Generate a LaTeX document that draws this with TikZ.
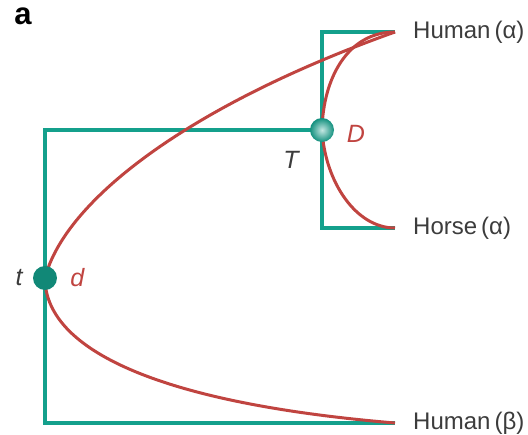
\documentclass[tikz,border=0pt]{standalone}
\usepackage{fontspec}
\setmainfont{Liberation Sans}
\usepackage{tikz}
\usepackage{xcolor}
\definecolor{Species}{RGB}{20, 160, 140}
\definecolor{Gene}{RGB}{192, 68, 64}
\definecolor{LabelGrey}{RGB}{60, 60, 60}
\usetikzlibrary{positioning}

\begin{document}
\begin{tikzpicture}[
    x=1pt, y=-1pt,
    species/.style={draw=Species, line width=3.8pt},
    gene/.style={draw=Gene, line width=3pt},
    event/.style={circle, minimum size=24pt, inner sep=0pt, fill=Species!85!black},
    shiny/.style={fill=none, shading=radial, inner color=Species!25!white, outer color=Species!90!black},
    leaf/.style={anchor=west, text=LabelGrey, font=\fontsize{24}{26}\selectfont, inner sep=0pt},
    tag/.style={font=\fontsize{25}{28}\selectfont\itshape, inner sep=0pt}
]
\useasboundingbox (0,0) rectangle (528,435);

% Panel letter
\node[font=\fontsize{31}{32}\selectfont\bfseries, inner sep=0pt] (panel) at (23,16) {a};

% Leaf ends
\coordinate (humA) at (395,32);
\coordinate (horA) at (395,228);
\coordinate (humB) at (395,423);
\coordinate (topin) at (322,32);
\coordinate (botin) at (322,228);
\coordinate (topout) at (45,130);
\coordinate (botout) at (45,423);

% Species tree
\draw[species] (humA) -- (topin) -- (botin) -- (horA);
\draw[species] (322,130) -- (topout) -- (botout) -- (humB);

% Gene tree
\draw[gene] (45,278) .. controls (65,200) and (190,105) .. (humA);
\draw[gene] (45,278) .. controls (45,345) and (145,402) .. (humB);
\draw[gene] (322,130) .. controls (323,78) and (348,32) .. (humA);
\draw[gene] (322,130) .. controls (325,182) and (356,228) .. (horA);

% Events
\node[event] (dupt) at (45,278) {};
\node[event, shiny] (dupT) at (322,130) {};

% Labels
\node[tag, text=LabelGrey, left=10pt of dupt] (tlab) {t};
\node[tag, text=Gene, right=13pt of dupt] (dlab) {d};
\node[tag, text=LabelGrey] (Tlab) at (291,160) {T};
\node[tag, text=Gene] (Dlab) at (356,134) {D};

\node[leaf] (lhumA) at (413,32) {Human\,(α)};
\node[leaf] (lhorA) at (413,228) {Horse\,(α)};
\node[leaf] (lhumB) at (413,423) {Human\,(β)};
\end{tikzpicture}
\end{document}
